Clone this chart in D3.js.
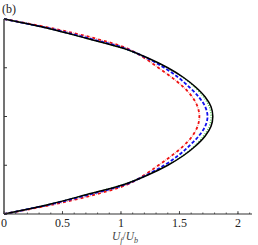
<!DOCTYPE html>
<html><head><meta charset="utf-8">
<script src="https://cdn.jsdelivr.net/npm/d3@7"></script>
<style>body{margin:0;background:#fff}</style>
</head><body>
<svg id="c" width="258" height="245"></svg>
<script>
const eta = [0,0.05,0.1,0.15,0.2,0.25,0.3,0.35,0.4,0.45,0.5,0.55,0.6,0.65,0.7,0.75,0.8,0.85,0.9,0.95,1];
const uBlack = [0,0.39,0.71,1.02,1.23,1.40,1.535,1.64,1.72,1.77,1.785,1.77,1.72,1.64,1.535,1.40,1.23,1.02,0.71,0.39,0];
const uGreen = [0,0.39,0.71,1.01,1.225,1.395,1.53,1.63,1.705,1.755,1.77,1.755,1.705,1.63,1.53,1.395,1.225,1.01,0.71,0.39,0];
const uBlue  = [0,0.40,0.73,1.03,1.22,1.37,1.49,1.585,1.665,1.72,1.74,1.72,1.665,1.585,1.49,1.37,1.22,1.03,0.73,0.40,0];
const uRed   = [0,0.43,0.78,1.05,1.20,1.32,1.435,1.535,1.61,1.655,1.67,1.655,1.61,1.535,1.435,1.32,1.20,1.05,0.78,0.43,0];
const xTicks = [0,0.5,1,1.5,2];
const xTickLabels = ["0","0.5","1","1.5","2"];
const yTicks = [0,0.25,0.5,0.75,1];
const FONT = "'Liberation Serif', 'Times New Roman', Times, serif";

const svg = d3.select("#c");
const x = d3.scaleLinear().domain([0,2.12]).range([4,252]);
const y = d3.scaleLinear().domain([0,1]).range([214,19]);

const series = [
  {u:uRed, color:"#ff9a9a", w:1.3, dash:"1,5", off:-4},
  {u:uRed, color:"#ee1111", w:1.8, dash:"3,3", off:0},
  {u:uGreen, color:"#44cc44", w:1.3, dash:"1,1.5", off:0},
  {u:uBlue, color:"#1111ee", w:1.8, dash:"3.5,2", off:0},
  {u:uBlack, color:"#000", w:1.5, dash:null, off:0}
];
const line = d3.line().x(d=>x(d[0])).y(d=>y(d[1])).curve(d3.curveCatmullRom.alpha(0.5));
series.forEach(s=>{
  svg.append("path").datum(s.u.map((v,i)=>[v,eta[i]]))
    .attr("d",line).attr("fill","none").attr("stroke",s.color)
    .attr("stroke-width",s.w).attr("stroke-dasharray",s.dash)
    .attr("stroke-dashoffset",s.off);
});

// x axis
const xa = svg.append("g").attr("transform","translate(0,214)");
xa.append("line").attr("x1",4).attr("x2",252).attr("stroke","#333").attr("stroke-width",1.2);
const minor = d3.range(0,2.11,0.1);
xa.selectAll(".mn").data(minor).join("line").attr("x1",d=>x(d)).attr("x2",d=>x(d))
  .attr("y1",0).attr("y2",-1.5).attr("stroke","#333").attr("stroke-width",0.8);
xa.selectAll(".mj").data(xTicks).join("line").attr("x1",d=>x(d)).attr("x2",d=>x(d))
  .attr("y1",0).attr("y2",-3).attr("stroke","#333").attr("stroke-width",0.8);
xa.selectAll("text").data(xTicks).join("text").attr("x",d=>x(d)).attr("y",13)
  .attr("text-anchor","middle").attr("font-family",FONT)
  .attr("font-size",12).attr("fill","#222").text((d,i)=>xTickLabels[i]);

// y axis
svg.append("line").attr("x1",4).attr("x2",4).attr("y1",19).attr("y2",214)
  .attr("stroke","#444").attr("stroke-width",1.5);
svg.selectAll(".yt").data(yTicks).join("line").attr("x1",4).attr("x2",7)
  .attr("y1",d=>y(d)).attr("y2",d=>y(d)).attr("stroke","#333").attr("stroke-width",1);

// labels
svg.append("text").attr("x",2).attr("y",13).attr("font-family",FONT)
  .attr("font-size",12).attr("fill","#222").text("(b)");
const xl = svg.append("text").attr("x",125).attr("y",240).attr("text-anchor","middle")
  .attr("font-family",FONT).attr("font-size",11.5).attr("fill","#444");
xl.append("tspan").attr("font-style","italic").text("U");
xl.append("tspan").attr("font-style","italic").attr("font-size",8).attr("dy",2.5).text("f");
xl.append("tspan").attr("dy",-2.5).text("/");
xl.append("tspan").attr("font-style","italic").text("U");
xl.append("tspan").attr("font-style","italic").attr("font-size",8).attr("dy",2.5).text("b");
</script>
</body></html>
